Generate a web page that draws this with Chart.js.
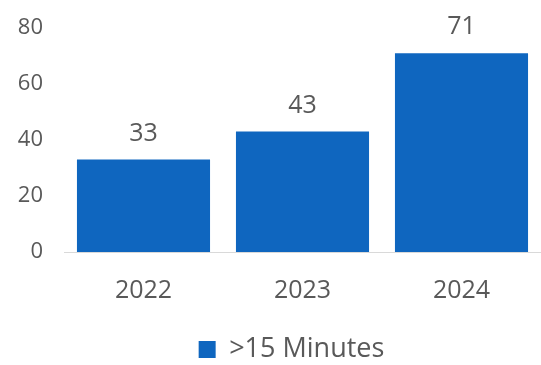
<!DOCTYPE html>
<html>
<head>
<meta charset="utf-8">
<script src="https://cdn.jsdelivr.net/npm/chart.js@4.4.1/dist/chart.umd.min.js"></script>
<style>
  html, body { margin: 0; padding: 0; background: #ffffff; }
  #wrap { width: 541px; height: 365px; position: relative; }
</style>
</head>
<body>
<div id="wrap"><canvas id="myChart"></canvas></div>
<script>
const years = ['2022', '2023', '2024'];
const seriesName = '>15 Minutes';
const counts = [33, 43, 71];
const yTicks = [0, 20, 40, 60, 80];

const barColor = '#0F66BF';
const textColor = '#595959';
const fontFamily = "'Open Sans', 'Noto Sans', sans-serif";

// draws the value above each bar
const valueLabels = {
    id: 'valueLabels',
    afterDatasetsDraw(chart) {
        const ctx = chart.ctx;
        const meta = chart.getDatasetMeta(0);
        ctx.save();
        ctx.font = '25px ' + fontFamily;
        ctx.fillStyle = textColor;
        ctx.textAlign = 'center';
        ctx.textBaseline = 'middle';
        meta.data.forEach((bar, i) => {
            ctx.fillText(counts[i], bar.x, bar.y - 26);
        });
        ctx.restore();
    }
};

// legend sits a little left of the plot centre in the original
const legendNudge = {
    id: 'legendNudge',
    afterLayout(chart) {
        chart.legend.left -= 11;
        chart.legend.right -= 11;
    }
};

function createChart() {
    const ctx = document.getElementById('myChart');

    const data = {
        labels: years,
        datasets: [{
            label: seriesName,
            data: counts,
            backgroundColor: barColor,
            barPercentage: 0.837,
            categoryPercentage: 1.0
        }]
    };

    const config = {
        type: 'bar',
        data: data,
        plugins: [valueLabels, legendNudge],
        options: {
            responsive: true,
            maintainAspectRatio: false,
            animation: false,
            layout: {
                padding: { top: 28, right: 0, bottom: -8, left: 0 }
            },
            plugins: {
                tooltip: { enabled: false },
                legend: {
                    position: 'bottom',
                    fullSize: false,
                    labels: {
                        boxWidth: 17,
                        boxHeight: 17,
                        padding: 4,
                        color: textColor,
                        font: { family: fontFamily, size: 27 }
                    }
                }
            },
            scales: {
                x: {
                    grid: { display: false, drawTicks: false },
                    border: { display: true, color: '#D9D9D9', width: 1 },
                    ticks: {
                        color: textColor,
                        padding: 24,
                        font: { family: fontFamily, size: 25 }
                    },
                    afterFit: (scale) => { scale.height = 80; }
                },
                y: {
                    min: 0,
                    max: 80,
                    grid: { display: false, drawTicks: false },
                    border: { display: false },
                    afterBuildTicks: (scale) => {
                        scale.ticks = yTicks.map(v => ({ value: v }));
                    },
                    ticks: {
                        color: textColor,
                        padding: 21,
                        font: { family: fontFamily, size: 22 }
                    },
                    afterFit: (scale) => {
                        scale.width = 64;
                        // tick padding should only push labels sideways
                        scale.paddingTop = 0;
                        scale.paddingBottom = 0;
                    }
                }
            }
        }
    };

    return new Chart(ctx, config);
}

const chart = createChart();
</script>
</body>
</html>
